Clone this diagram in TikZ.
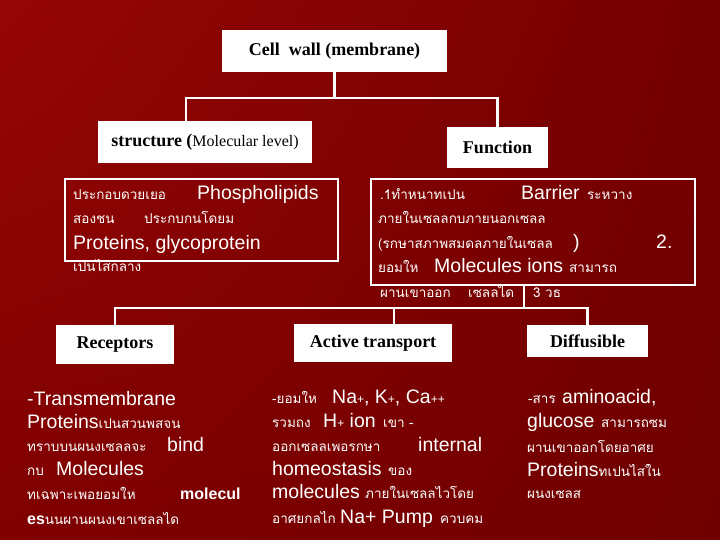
\documentclass[tikz,border=0pt]{standalone}
\usepackage{fontspec}
\usetikzlibrary{shadings}
\setmainfont{Liberation Sans}
\newfontfamily\thaifont[Script=Thai]{Loma}
\newfontfamily\serfont{Liberation Serif}
\newcommand\tha[1]{{\thaifont\fontsize{13.5}{13.5}\selectfont #1}}
\newcommand\lat[1]{{\fontsize{19.5}{19.5}\selectfont #1}}
\newcommand\latb[1]{{\fontsize{16}{16}\selectfont\bfseries #1}}
\newcommand\pls{{\fontsize{12}{12}\selectfont +}}
\definecolor{bgul}{RGB}{150,6,6}
\definecolor{bgur}{RGB}{116,0,0}
\definecolor{bgll}{RGB}{128,0,0}
\definecolor{bglr}{RGB}{112,0,0}
\begin{document}
\begin{tikzpicture}[x=1pt,y=-1pt,
  lbl/.style={fill=white, inner sep=0pt, text=black, font=\serfont\bfseries\fontsize{18}{18}\selectfont},
  cbox/.style={draw=white, line width=2.6pt, inner sep=0pt},
  conn/.style={draw=white, line width=2.4pt},
  tx/.style={anchor=base west, inner sep=0pt, text=white}]
% background
\shade[upper left=bgul, upper right=bgur, lower left=bgll, lower right=bglr]
  (0,0) rectangle (720,540);
\useasboundingbox (0,0) rectangle (720,540);

% label boxes
\node[lbl, minimum width=225pt, minimum height=42pt] (cw) at (334.5,51) {Cell\ \ wall (membrane)};
\node[lbl, minimum width=214pt, minimum height=42pt] (st) at (205,142) {structure (\textmd{\fontsize{16}{16}\selectfont Molecular level)}};
\node[lbl, minimum width=101pt, minimum height=41pt] (fn) at (497.5,147.5) {Function};
\node[lbl, minimum width=118pt, minimum height=39pt] (rc) at (115,344.5) {Receptors};
\node[lbl, minimum width=158pt, minimum height=38pt] (at) at (373,343) {Active transport};
\node[lbl, minimum width=121pt, minimum height=32pt] (df) at (587.5,341) {Diffusible};

% content boxes
\node[cbox, minimum width=273pt, minimum height=82pt] (stc) at (201.5,220) {};
\node[cbox, minimum width=324pt, minimum height=106pt] (fnc) at (533,232) {};

% connectors
\coordinate (busa) at (0,98);
\coordinate (busb) at (0,308);
\coordinate (stx) at (186,0);
\coordinate (atx) at (394,0);
\coordinate (fx) at (524,0);
\draw[conn] (cw.south) -- (cw.south |- busa);
\draw[conn] (st.north -| stx) |- (fn.north |- busa) -- (fn.north);
\draw[conn] (fnc.south -| fx) -- (fx |- busb);
\draw[conn] (rc.north) |- (df.north |- busb) -- (df.north);
\draw[conn] (at.north -| atx) -- (atx |- busb);

% structure text
\node[tx] (s1a) at (73,200) {\tha{ประกอบดวยเยอ}};
\node[tx] (s1b) at (197,200) {\lat{Phospholipids}};
\node[tx] (s2a) at (73,223) {\tha{สองชน}};
\node[tx] (s2b) at (144,223) {\tha{ประกบกนโดยม}};
\node[tx] (s3) at (73,249) {\lat{Proteins, glycoprotein}};
\node[tx] (s4) at (73,271) {\tha{เปนไสกลาง}};

% function text
\node[tx] (f1a) at (380,200) {\tha{.1ทำหนาทเปน}};
\node[tx] (f1b) at (521,200) {\lat{Barrier}};
\node[tx] (f1c) at (587,200) {\tha{ระหวาง}};
\node[tx] (f2) at (378,223) {\tha{ภายในเซลลกบภายนอกเซลล}};
\node[tx] (f3a) at (378,248) {\tha{(รกษาสภาพสมดลภายในเซลล}};
\node[tx] (f3b) at (573,248) {\lat{)}};
\node[tx] (f3c) at (656,248) {\lat{2.}};
\node[tx] (f4a) at (378,272) {\tha{ยอมให}};
\node[tx] (f4b) at (434,272) {\lat{Molecules ions}};
\node[tx] (f4c) at (569,272) {\tha{สามารถ}};
\node[tx] (f5a) at (380,297) {\tha{ผานเขาออก}};
\node[tx] (f5b) at (468,297) {\tha{เซลลได}};
\node[tx] (f5c) at (533,297) {\tha{3 วธ}};

% receptors text
\node[tx] (r1) at (27,405) {\lat{-Transmembrane}};
\node[tx] (r2) at (27,428) {\lat{Proteins}\tha{เปนสวนพสจน}};
\node[tx] (r3a) at (27,451) {\tha{ทราบบนผนงเซลลจะ}};
\node[tx] (r3b) at (167,451) {\lat{bind}};
\node[tx] (r4a) at (27,475) {\tha{กบ}};
\node[tx] (r4b) at (56,475) {\lat{Molecules}};
\node[tx] (r5a) at (27,499) {\tha{ทเฉพาะเพอยอมให}};
\node[tx] (r5b) at (180,499) {\latb{molecul}};
\node[tx] (r6) at (27,524) {\latb{es}\tha{นนผานผนงเขาเซลลได}};

% active transport text
\node[tx] (a1a) at (272,403) {\tha{-ยอมให}};
\node[tx] (a1b) at (332,403) {\lat{Na\pls, K\pls, Ca\pls\pls}};
\node[tx] (a2a) at (272,427) {\tha{รวมถง}};
\node[tx] (a2b) at (323,427) {\lat{H\pls\ ion}};
\node[tx] (a2c) at (383,427) {\tha{เขา -}};
\node[tx] (a3a) at (272,451) {\tha{ออกเซลลเพอรกษา}};
\node[tx] (a3b) at (418,451) {\lat{internal}};
\node[tx] (a4a) at (272,475) {\lat{homeostasis}};
\node[tx] (a4b) at (388,475) {\tha{ของ}};
\node[tx] (a5a) at (272,498) {\lat{molecules}};
\node[tx] (a5b) at (365,498) {\tha{ภายในเซลลไวโดย}};
\node[tx] (a6a) at (272,523) {\tha{อาศยกลไก}};
\node[tx] (a6b) at (340,523) {\lat{Na+ Pump}};
\node[tx] (a6c) at (440,523) {\tha{ควบคม}};

% diffusible text
\node[tx] (d1a) at (528,403) {\tha{-สาร}};
\node[tx] (d1b) at (562,403) {\lat{aminoacid,}};
\node[tx] (d2a) at (527,427) {\lat{glucose}};
\node[tx] (d2b) at (601,427) {\tha{สามารถซม}};
\node[tx] (d3) at (527,452) {\tha{ผานเขาออกโดยอาศย}};
\node[tx] (d4) at (527,476) {\lat{Proteins}\tha{ทเปนไสใน}};
\node[tx] (d5) at (527,498) {\tha{ผนงเซลส}};
\end{tikzpicture}
\end{document}
